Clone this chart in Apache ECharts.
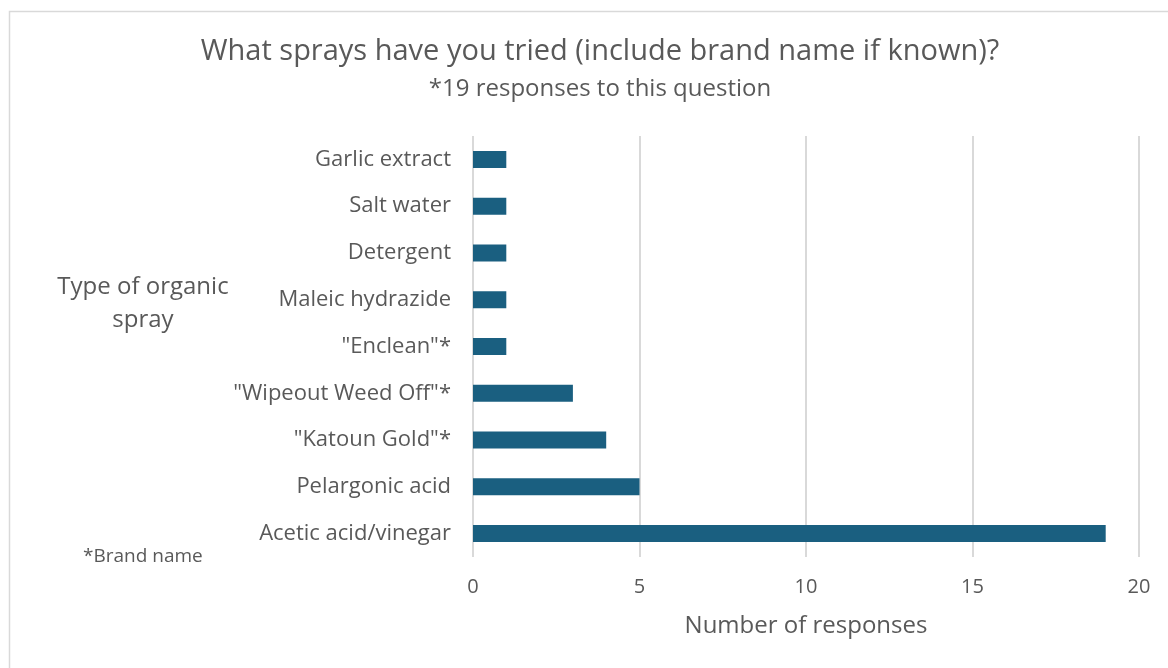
<!DOCTYPE html>
<html>
<head>
<meta charset="utf-8">
<script src="https://cdn.jsdelivr.net/npm/echarts@6/dist/echarts.min.js"></script>
<style>
  html, body { margin: 0; padding: 0; background: #fff; }
  #chart { width: 1168px; height: 668px; }
</style>
</head>
<body>
<div id="chart"></div>
<script>
// categories listed bottom to top (as echarts draws a category y axis)
const categories = [
  'Acetic acid/vinegar',
  'Pelargonic acid',
  '"Katoun Gold"*',
  '"Wipeout Weed Off"*',
  '"Enclean"*',
  'Maleic hydrazide',
  'Detergent',
  'Salt water',
  'Garlic extract'
];
const responses = [19, 5, 4, 3, 1, 1, 1, 1, 1];
const xTicks = [0, 5, 10, 15, 20];

const FONT = '"Open Sans", sans-serif';
const GREY = '#595959';

const chart = echarts.init(document.getElementById('chart'));

chart.setOption({
  animation: false,
  backgroundColor: '#fff',
  title: {
    text: 'What sprays have you tried (include brand name if known)?',
    subtext: '*19 responses to this question',
    left: 595,
    textAlign: 'center',
    top: 32,
    itemGap: 11,
    textStyle: { fontFamily: FONT, fontSize: 29, fontWeight: 'normal', color: GREY },
    subtextStyle: { fontFamily: FONT, fontSize: 24, color: GREY }
  },
  grid: { left: 473, right: 29, top: 136, bottom: 111 },
  xAxis: {
    type: 'value',
    min: xTicks[0],
    max: xTicks[xTicks.length - 1],
    interval: 5,
    name: 'Number of responses',
    nameLocation: 'middle',
    nameGap: 57,
    nameTextStyle: { fontFamily: FONT, fontSize: 24, color: GREY },
    axisLine: { show: false },
    axisTick: { show: false },
    axisLabel: { fontFamily: FONT, fontSize: 20, color: GREY, margin: 20 },
    splitLine: { show: true, lineStyle: { color: '#d9d9d9', width: 2 } }
  },
  yAxis: {
    type: 'category',
    data: categories,
    axisLine: { show: false },
    axisTick: { show: false },
    axisLabel: { fontFamily: FONT, fontSize: 22, color: GREY, margin: 22 }
  },
  series: [{
    type: 'bar',
    data: responses,
    barWidth: 17,
    itemStyle: { color: '#1a5f80' }
  }],
  graphic: [
    {
      type: 'rect',
      shape: { x: 9.5, y: 11.5, width: 1200, height: 700 },
      style: { fill: 'none', stroke: '#d9d9d9', lineWidth: 1.5 },
      silent: true
    },
    {
      type: 'text',
      x: 143, y: 304,
      style: {
        text: 'Type of organic\nspray',
        fontFamily: FONT, fontSize: 24, fill: GREY,
        align: 'center', verticalAlign: 'middle', lineHeight: 33
      }
    },
    {
      type: 'text',
      x: 83, y: 557,
      style: {
        text: '*Brand name', fontFamily: FONT, fontSize: 19, fill: GREY,
        verticalAlign: 'middle'
      }
    }
  ]
});
</script>
</body>
</html>
